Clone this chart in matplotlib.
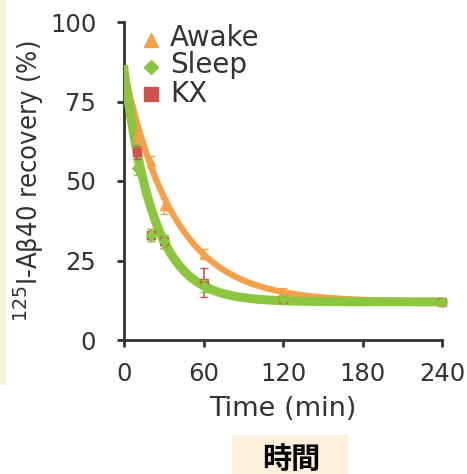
import numpy as np
import matplotlib.pyplot as plt
from matplotlib.patches import Rectangle

plt.rcParams['font.family'] = ['DejaVu Sans']
plt.rcParams['mathtext.fontset'] = 'dejavusans'

# data
t = [10, 20, 30, 60, 120, 240]
awake = [64, 56, 42, 27, 15, 12]
awake_err = [2, 2, 2.5, 1.5, 1.5, 1]
sleep = [54, 33, 31, 17, 13, 12]
sleep_err = [2, 2, 2, 2, 1, 1]
kx = [59, 33, 31, 18, 13, 12]
kx_err = [2, 2, 2, 4.5, 1, 1]

# fitted one-phase decay: y0, plateau, k
awake_fit = (85, 12, 0.0264)
sleep_fit = (85, 12, 0.0445)
kx_fit = (85, 12, 0.044)

c_awake = '#F5A04A'
c_sleep = '#8CC63F'
c_kx = '#D2514A'
c_txt = '#333333'

fig = plt.figure(figsize=(4.67, 4.74), dpi=100)
ax = fig.add_axes([124/467, 1-340/474, 318/467, 318/474])

tt = np.linspace(0, 240, 400)
def decay(p):
    y0, plat, k = p
    return plat + (y0 - plat) * np.exp(-k * tt)

ax.plot(tt, decay(kx_fit), color=c_kx, lw=3, zorder=2)
ax.plot(tt, decay(awake_fit), color=c_awake, lw=4.5, zorder=3)
ax.plot(tt, decay(sleep_fit), color=c_sleep, lw=6.5, zorder=4)

ax.errorbar(t, kx, yerr=kx_err, fmt='s', color=c_kx, ms=6, capsize=3, lw=1.2, zorder=5, clip_on=False)
ax.errorbar(t, awake, yerr=awake_err, fmt='^', color=c_awake, ms=6, capsize=3, lw=1.2, zorder=5, clip_on=False)
ax.errorbar(t, sleep, yerr=sleep_err, fmt='D', color=c_sleep, ms=5, capsize=3, lw=1.2, zorder=6, clip_on=False)

# legend entries
names = ['Awake', 'Sleep', 'KX']
marks = ['^', 'D', 's']
cols = [c_awake, c_sleep, c_kx]
sizes = [10, 7, 10]
mark_y = [0.943, 0.858, 0.774]
text_y = [0.95, 0.865, 0.774]
for n, m, c, s, my, ty in zip(names, marks, cols, sizes, mark_y, text_y):
    ax.plot([0.085], [my], m, color=c, ms=s, transform=ax.transAxes, clip_on=False)
    ax.text(0.145, ty, n, transform=ax.transAxes, fontsize=20, va='center', ha='left', color=c_txt)

ax.set_xlim(0, 240)
ax.set_ylim(0, 100)
ax.set_xticks([0, 60, 120, 180, 240])
ax.set_yticks([0, 25, 50, 75, 100])
ax.spines['top'].set_visible(False)
ax.spines['right'].set_visible(False)
for s in ['left', 'bottom']:
    ax.spines[s].set_linewidth(2)
    ax.spines[s].set_color(c_txt)
ax.tick_params(labelsize=17.5, width=2, length=5, colors=c_txt)
ax.tick_params(axis='y', pad=15)
ax.tick_params(axis='x', pad=11)
ax.set_xlabel('Time (min)', fontsize=19.5, color=c_txt, labelpad=7)
ax.set_ylabel('$^{125}$I-Aβ40 recovery (%)', fontsize=19.5, color=c_txt, fontstretch='condensed')
ax.yaxis.set_label_coords(-0.245, 0.5)

# beige strip on the left edge
fig.patches.append(Rectangle((0, 1-385/474), 6/467, 385/474, transform=fig.transFigure,
                             facecolor='#FCEFD8', edgecolor='none', zorder=0))
# beige box behind the Chinese label
fig.patches.append(Rectangle((232/467, 0), 116/467, 39/474, transform=fig.transFigure,
                             facecolor='#FDF1DC', edgecolor='none', zorder=0))

fig.text(291/467, 1-459/474, '時間', fontsize=21, fontweight='bold', ha='center', va='center',
         family=['Noto Sans CJK JP', 'DejaVu Sans'], color='black')

fig.savefig('out.png', dpi=100)
